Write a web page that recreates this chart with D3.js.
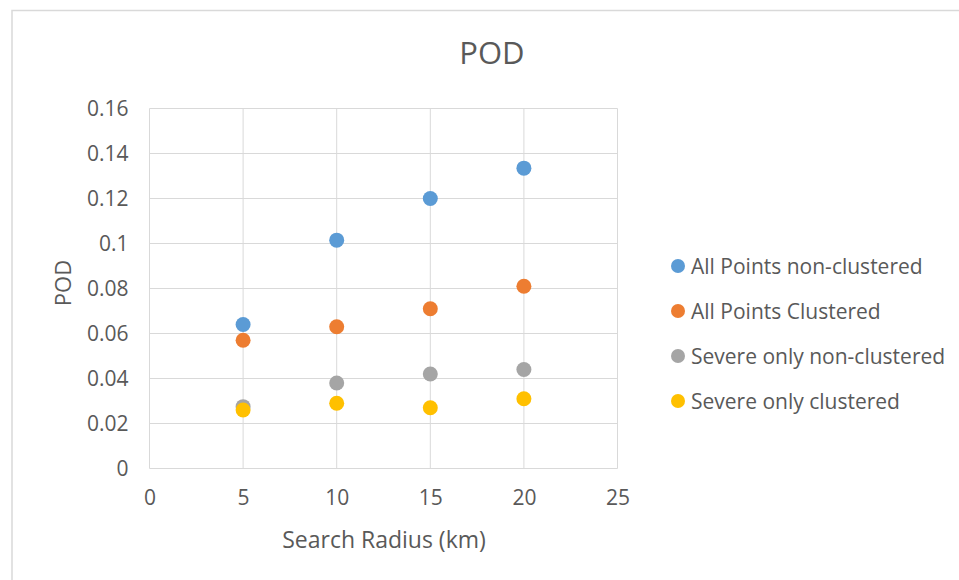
<!DOCTYPE html>
<html><head><meta charset="utf-8">
<script src="https://cdn.jsdelivr.net/npm/d3@7"></script>
<style>body{margin:0;background:#fff}text{font-family:"Open Sans",sans-serif;fill:#595959}</style>
</head><body><svg id="c" width="959" height="580"></svg>
<script>
const radii = [5, 10, 15, 20];
const seriesNames = ["All Points non-clustered","All Points Clustered","Severe only non-clustered","Severe only clustered"];
const seriesColors = ["#5b9bd5","#ed7d31","#a5a5a5","#ffc000"];
const allNonClustered = [0.064, 0.1015, 0.120, 0.1335];
const allClustered = [0.057, 0.063, 0.071, 0.081];
const severeNonClustered = [0.0275, 0.038, 0.042, 0.044];
const severeClustered = [0.026, 0.029, 0.027, 0.031];
const xTicks = [0,5,10,15,20,25];
const yTicks = [0,0.02,0.04,0.06,0.08,0.1,0.12,0.14,0.16];

const seriesValues = [allNonClustered, allClustered, severeNonClustered, severeClustered];
const svg = d3.select("#c");
// chart border
svg.append("path").attr("d","M12,580 V10.5 H959").attr("fill","none").attr("stroke","#d9d9d9").attr("stroke-width",1.5);

const L=149.5, R=617.5, T=108.5, B=468.5;
const x = d3.scaleLinear().domain([0,25]).range([L,R]);
const y = d3.scaleLinear().domain([0,0.16]).range([B,T]);

const grid = svg.append("g");
grid.selectAll("line.h").data(yTicks).join("line").attr("x1",L).attr("x2",R).attr("y1",d=>y(d)).attr("y2",d=>y(d)).attr("stroke","#d9d9d9").attr("stroke-width",1);
grid.selectAll("line.v").data(xTicks).join("line").attr("y1",T).attr("y2",B).attr("x1",d=>x(d)).attr("x2",d=>x(d)).attr("stroke","#d9d9d9").attr("stroke-width",1);

const fmtY = d => d===0 ? "0" : String(+d.toFixed(2));
const yAxis = svg.append("g").attr("transform",`translate(${L},0)`).call(d3.axisLeft(y).tickValues(yTicks).tickFormat(fmtY).tickSize(0).tickPadding(21));
yAxis.select(".domain").remove();
yAxis.selectAll("text").style("font-size","21px").attr("fill","#595959");
const xAxis = svg.append("g").attr("transform",`translate(0,${B})`).call(d3.axisBottom(x).tickValues(xTicks).tickFormat(d3.format("d")).tickSize(0).tickPadding(22));
xAxis.select(".domain").remove();
xAxis.selectAll("text").style("font-size","21px").attr("fill","#595959");

svg.append("text").attr("x",492).attr("y",64).attr("text-anchor","middle").style("font-size","31px").text("POD");
svg.append("text").attr("x",384).attr("y",548).attr("text-anchor","middle").style("font-size","23px").text("Search Radius (km)");
svg.append("text").attr("transform","translate(71,283) rotate(-90)").attr("text-anchor","middle").style("font-size","22px").text("POD");

seriesValues.forEach((vals,i)=>{
  svg.append("g").selectAll("circle").data(vals).join("circle")
    .attr("cx",(d,j)=>x(radii[j])).attr("cy",d=>y(d)).attr("r",7.5).attr("fill",seriesColors[i]);
});

const leg = svg.append("g");
seriesNames.forEach((n,i)=>{
  const cy = 266 + i*45;
  leg.append("circle").attr("cx",678).attr("cy",cy).attr("r",7).attr("fill",seriesColors[i]);
  leg.append("text").attr("x",691).attr("y",cy+7.5).style("font-size","21px").text(n);
});
</script></body></html>
